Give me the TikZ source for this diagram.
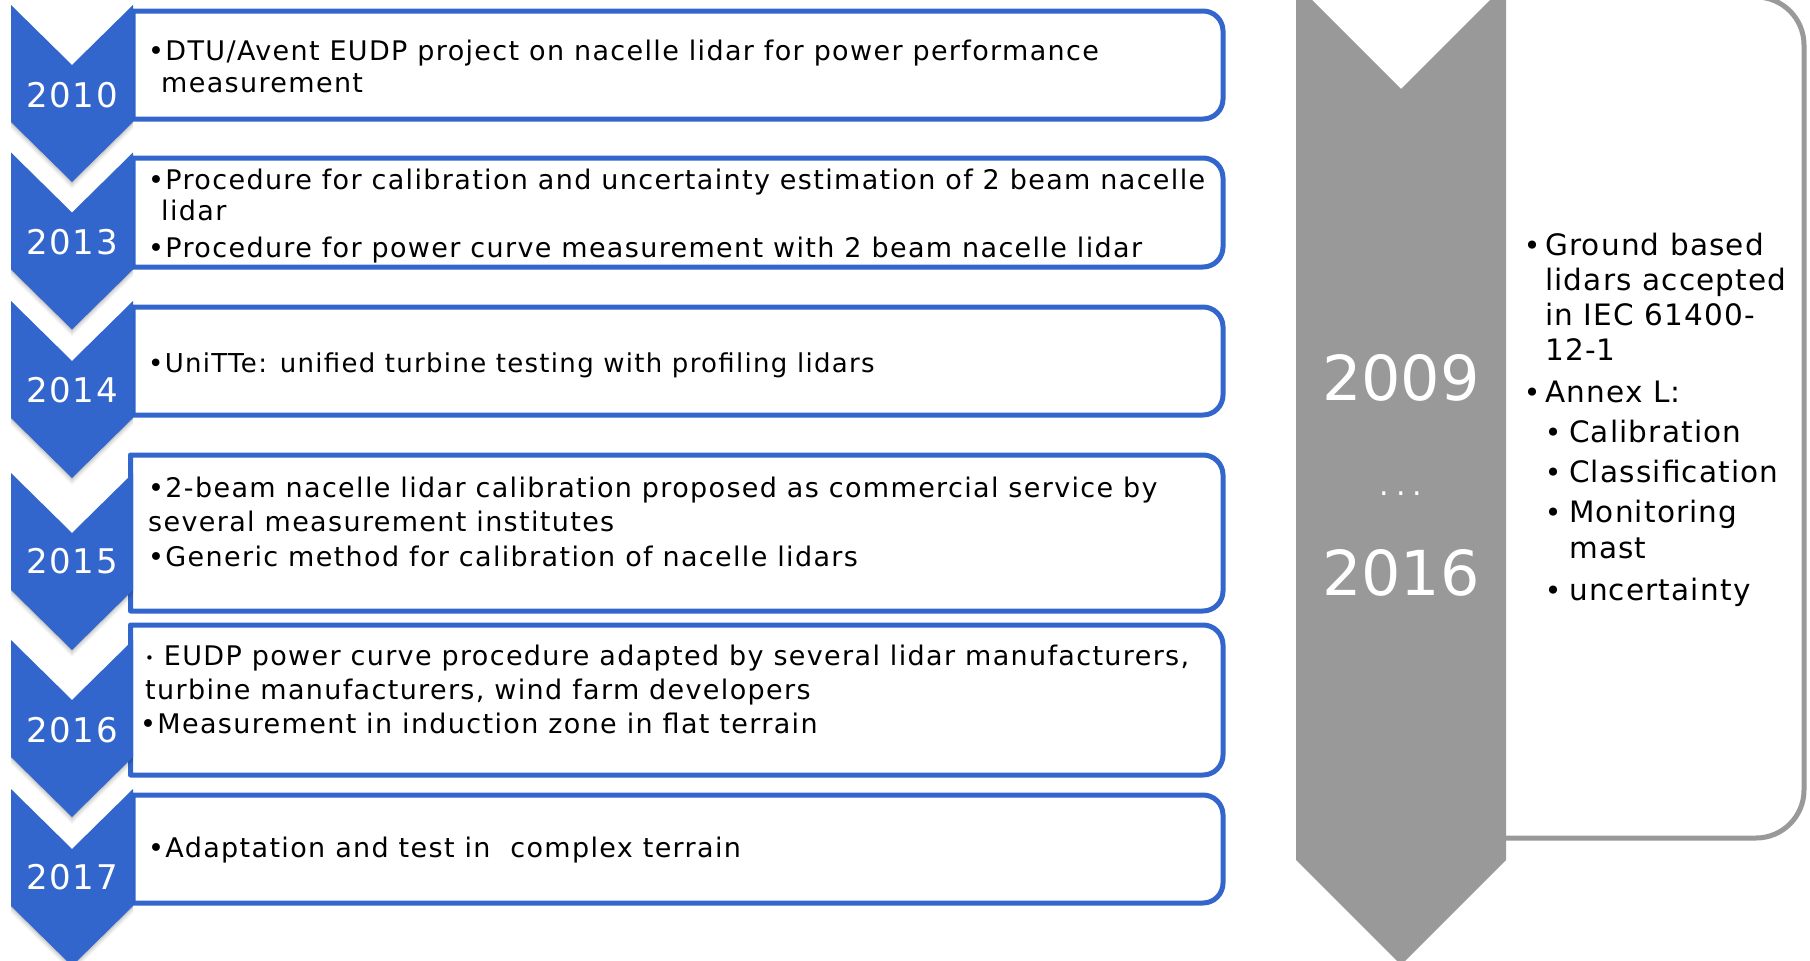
\documentclass[tikz,border=0pt]{standalone}
\usepackage{fontspec}
\setmainfont{DejaVu Sans}
\newfontfamily\bodyf{DejaVu Sans}[LetterSpace=5]
\newfontfamily\yearf{DejaVu Sans}[LetterSpace=5]
\newfontfamily\sidef{DejaVu Sans}[LetterSpace=4]
\newfontfamily\bigf{DejaVu Sans}
\definecolor{tlblue}{RGB}{51,102,204}
\definecolor{tlgray}{RGB}{153,153,153}
\newcommand\tlbox[3]{% left, top, bottom
  \draw[boxline] (#1,#2) -- (1203,#2) arc[start angle=-90,end angle=0,radius=20]
    -- (1223,{#3-20}) arc[start angle=0,end angle=90,radius=20] -- (#1,#3) -- cycle;}
\newcommand\chevpath[2]{(11,{#1+#2}) -- (72,{#1+60+#2}) -- (133,{#1+#2}) -- (133,{#1+117+#2}) -- (72,{#1+177+#2}) -- (11,{#1+117+#2}) -- cycle}
\newcommand\tlchev[1]{% top
  \fill[black, opacity=0.04] \chevpath{#1}{7};
  \fill[black, opacity=0.05] \chevpath{#1}{5};
  \fill[black, opacity=0.06] \chevpath{#1}{3};
  \fill[black, opacity=0.07] \chevpath{#1}{1.5};
  \fill[tlblue] \chevpath{#1}{0};}
\begin{document}
\begin{tikzpicture}[x=1pt,y=-1pt,
  boxline/.style={draw=tlblue, line width=5pt, line join=round, fill=white},
  body/.style={anchor=base west, inner sep=0pt, text=black, font=\bodyf\fontsize{27}{32}\selectfont},
  bodysmall/.style={body, font=\bodyf\fontsize{26}{32}\selectfont},
  yr/.style={anchor=base, inner sep=0pt, text=white, font=\yearf\fontsize{34}{40}\selectfont},
  side/.style={anchor=base west, inner sep=0pt, text=black, font=\sidef\fontsize{29.5}{34}\selectfont},
  sidebul/.style={anchor=base, inner sep=0pt, text=black, font=\sidef\fontsize{28}{34}\selectfont},
  big/.style={anchor=base, inner sep=0pt, text=white, font=\bigf\fontsize{62}{70}\selectfont}]
\useasboundingbox (0,0) rectangle (1810,961);
\fill[white] (0,0) rectangle (1810,961);

% right panel
\draw[draw=tlgray, line width=5pt, fill=white] (1400,-3) -- (1756,-3) arc[start angle=-90,end angle=0,radius=48]
  -- (1804,790) arc[start angle=0,end angle=90,radius=48] -- (1400,838);
\fill[tlgray] (1296,-16) -- (1401,89) -- (1506,-16) -- (1506,860) -- (1401,965) -- (1296,860) -- cycle;
\node[big] (y09) at (1401,400) {2009};
\node[anchor=base, inner sep=0pt, text=white, font=\bigf\fontsize{30}{30}\selectfont] (dots) at (1401,495) {.\hspace{7pt}.\hspace{7pt}.};
\node[big] (y16b) at (1401,595) {2016};

\node[sidebul] (rb1) at (1532,255) {•};
\node[side] (r1) at (1545,255) {Ground based};
\node[side] (r2) at (1545,290) {lidars accepted};
\node[side] (r3) at (1545,325) {in IEC 61400-};
\node[side] (r4) at (1545,360) {12-1};
\node[sidebul] (rb2) at (1532,402) {•};
\node[side] (r5) at (1545,402) {Annex L:};
\node[sidebul] (rb3) at (1553,442) {•};
\node[side] (r6) at (1569,442) {Calibration};
\node[sidebul] (rb4) at (1553,482) {•};
\node[side] (r7) at (1569,482) {Classification};
\node[sidebul] (rb5) at (1553,522) {•};
\node[side] (r8) at (1569,522) {Monitoring};
\node[side] (r9) at (1569,558) {mast};
\node[sidebul] (rb6) at (1553,600) {•};
\node[side] (r10) at (1569,600) {uncertainty};

% left boxes
\tlbox{133}{11}{119}
\tlbox{133}{158}{267}
\tlbox{133}{307}{415}
\tlbox{130.5}{455}{611}
\tlbox{130.5}{625}{775}
\tlbox{133}{795}{903}

% chevrons
\tlchev{5}
\tlchev{152.5}
\tlchev{301}
\tlchev{473}
\tlchev{640}
\tlchev{789}

\node[yr] (y10) at (72,107) {2010};
\node[yr] (y13) at (72,254) {2013};
\node[yr] (y14) at (72,402) {2014};
\node[yr] (y15) at (72,573) {2015};
\node[yr] (y16) at (72,742) {2016};
\node[yr] (y17) at (72,889) {2017};

\node[body] (t1) at (148,60) {•DTU/Avent EUDP project on nacelle lidar for power performance};
\node[body] (t2) at (161,92) {measurement};
\node[body] (t3) at (148,189) {•Procedure for calibration and uncertainty estimation of 2 beam nacelle};
\node[body] (t4) at (161,220) {lidar};
\node[body] (t5) at (148,257) {•Procedure for power curve measurement with 2 beam nacelle lidar};
\node[bodysmall] (t6) at (148,372) {•UniTTe: unified turbine testing with profiling lidars};
\node[body] (t7) at (148,497) {•2-beam nacelle lidar calibration proposed as commercial service by};
\node[body] (t8) at (148,531) {several measurement institutes};
\node[body] (t9) at (148,566) {•Generic method for calibration of nacelle lidars};
\node[body] (t10) at (145,665) {{\fontsize{15}{15}\selectfont\raisebox{2pt}{•}} EUDP power curve procedure adapted by several lidar manufacturers,};
\node[body] (t11) at (145,699) {turbine manufacturers, wind farm developers};
\node[body] (t12) at (140,733) {•Measurement in induction zone in flat terrain};
\node[body] (t13) at (148,857) {•Adaptation and test in~ complex terrain};
\end{tikzpicture}
\end{document}
